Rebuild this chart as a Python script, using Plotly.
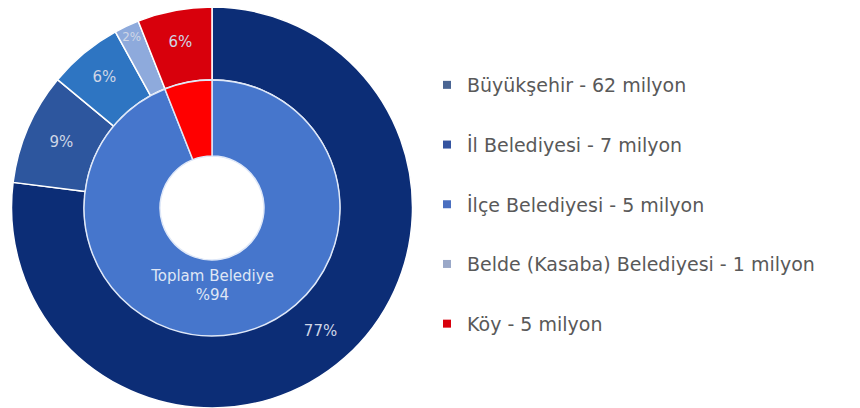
import plotly.graph_objects as go

# Outer ring: population by municipality type
outer_labels = ["Büyükşehir - 62 milyon", "İl Belediyesi - 7 milyon", "İlçe Belediyesi - 5 milyon",
                "Belde (Kasaba) Belediyesi - 1 milyon", "Köy - 5 milyon"]
outer_values = [77, 9, 6, 2, 6]
outer_text = ["77%", "9%", "6%", "2%", "6%"]
outer_colors = ["#0c2d76", "#2d569e", "#2e75c2", "#8eaadc", "#d8000c"]

# Inner ring: total municipality vs village
inner_labels = ["Toplam Belediye", "Köy"]
inner_values = [94, 6]
inner_text = ["Toplam Belediye<br>%94", ""]
inner_colors = ["#4676cc", "#ff0000"]

legend_colors = ["#4a6593", "#3454a0", "#4a6fc0", "#9aa8c8", "#d8000c"]

W, H = 860, 408
cx, cy_top = 212, 208
R_out, R_in, R_hole = 201, 128, 52
cy = H - cy_top

font_family = "DejaVu Sans"

fig = go.Figure()
fig.add_trace(go.Pie(
    labels=outer_labels, values=outer_values, text=outer_text,
    textinfo="text", textposition="inside", insidetextorientation="horizontal",
    sort=False, direction="clockwise", rotation=0,
    hole=R_in / R_out,
    marker=dict(colors=outer_colors, line=dict(color="white", width=1.5)),
    textfont=dict(family=font_family, size=15, color="#cfd6e6"),
    domain=dict(x=[(cx - R_out) / W, (cx + R_out) / W], y=[max(0, (cy - R_out) / H), (cy + R_out) / H]),
    showlegend=False, hoverinfo="label+percent",
))
fig.add_trace(go.Pie(
    labels=inner_labels, values=inner_values, text=inner_text,
    textinfo="text", textposition="inside", insidetextorientation="horizontal",
    sort=False, direction="clockwise", rotation=0,
    hole=R_hole / R_in,
    marker=dict(colors=inner_colors, line=dict(color="#dfe8f8", width=1.5)),
    textfont=dict(family=font_family, size=15, color="#dfe6f5"),
    domain=dict(x=[(cx - R_in) / W, (cx + R_in) / W], y=[(cy - R_in) / H, (cy + R_in) / H]),
    showlegend=False, hoverinfo="label+percent",
))

# Legend entries
for i, (lab, col) in enumerate(zip(outer_labels, legend_colors)):
    fig.add_trace(go.Scatter(
        x=[None], y=[None], mode="markers", name=lab, legendgroup=f"g{i}",
        marker=dict(symbol="square", size=8, color=col),
    ))

fig.update_layout(
    width=W, height=H, margin=dict(l=0, r=0, t=0, b=0),
    paper_bgcolor="white", plot_bgcolor="white",
    xaxis=dict(visible=False), yaxis=dict(visible=False),
    legend=dict(x=427 / W, y=1 - 66 / H, xanchor="left", yanchor="top",
                font=dict(family=font_family, size=19, color="#595959"),
                tracegroupgap=32, itemwidth=30, bgcolor="rgba(0,0,0,0)"),
)

fig.write_html("out.html")
